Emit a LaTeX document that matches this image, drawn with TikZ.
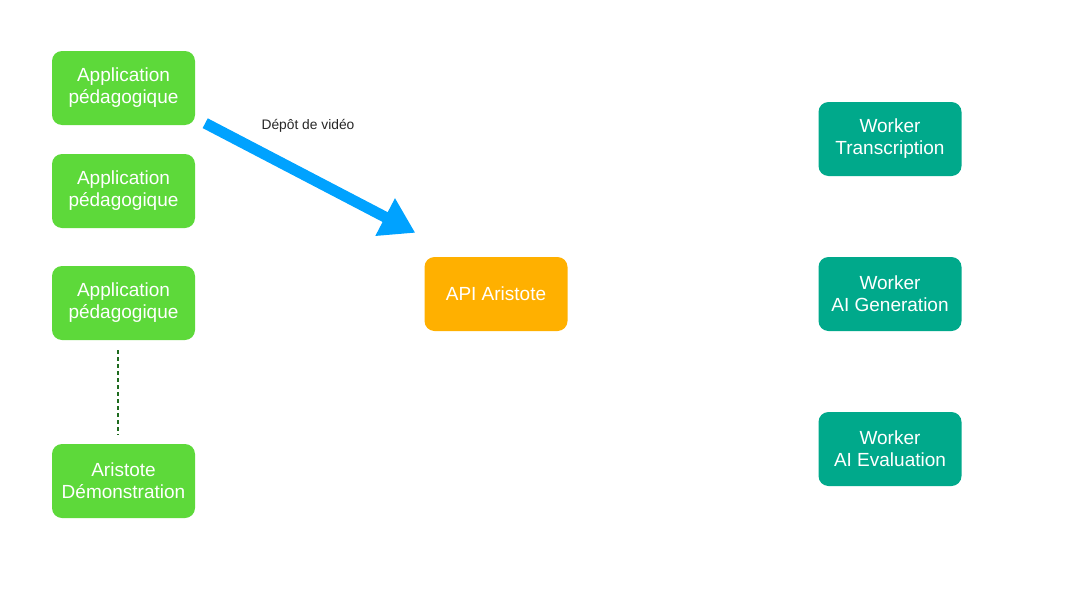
\documentclass[tikz,border=0pt]{standalone}
\usepackage{fontspec}
\setmainfont{Liberation Sans}
\usepackage{tikz}
\usetikzlibrary{arrows.meta,positioning,calc}
\usepackage{xcolor}
\definecolor{appColor}{HTML}{5DD93A}
\definecolor{apiColor}{HTML}{FFB000}
\definecolor{workerColor}{HTML}{00A98B}
\definecolor{arrowColor}{HTML}{00A2FF}
\definecolor{dotColor}{HTML}{1E6B1E}
\tikzset{
  boxnode/.style = {align=center, inner sep=0pt, text centered, rounded corners=10pt,
    minimum width=143pt, minimum height=74pt, text=white,
    font=\fontsize{19}{22}\selectfont},
  appNode/.style = {boxnode, fill=appColor},% application cliente
  apiNode/.style = {boxnode, fill=apiColor},% api centrale
  workerNode/.style = {boxnode, fill=workerColor},% worker
}
\begin{document}
\begin{tikzpicture}[x=1pt,y=-1pt]
\useasboundingbox (0,0) rectangle (1080,608);
% applications
\node [appNode] (app1) at (123.5,88) {Application\\p\'edagogique};
\node [appNode] (app2) at (123.5,191) {Application\\p\'edagogique};
\node [appNode] (app3) at (123.5,303) {Application\\p\'edagogique};
\node [appNode] (demo) at (123.5,481) {Aristote\\D\'emonstration};
% api
\node [apiNode] (api) at (496,294) {API Aristote};
% workers
\node [workerNode] (wTrans) at (890,139) {Worker\\Transcription};
\node [workerNode] (wGen) at (890,294) {Worker\\AI Generation};
\node [workerNode] (wEval) at (890,449) {Worker\\AI Evaluation};
% liens
\coordinate (depStart) at ($(app1.south east)+(10,-2)$);
\coordinate (depEnd) at ($(api.north west)+(-9,-24)$);
\draw [arrowColor, line width=11pt, -{Triangle[length=34pt,width=40pt]}] (depStart) -- (depEnd);
\node [font=\fontsize{13.8}{16}\selectfont, text=black!85] (depLabel) at (308,126) {D\'ep\^ot de vid\'eo};
\draw [dotColor, line width=2pt, dash pattern=on 4pt off 3pt] ($(app3.south)+(-5.5,10)$) -- ($(demo.north)+(-5.5,-9)$);
\end{tikzpicture}
\end{document}
